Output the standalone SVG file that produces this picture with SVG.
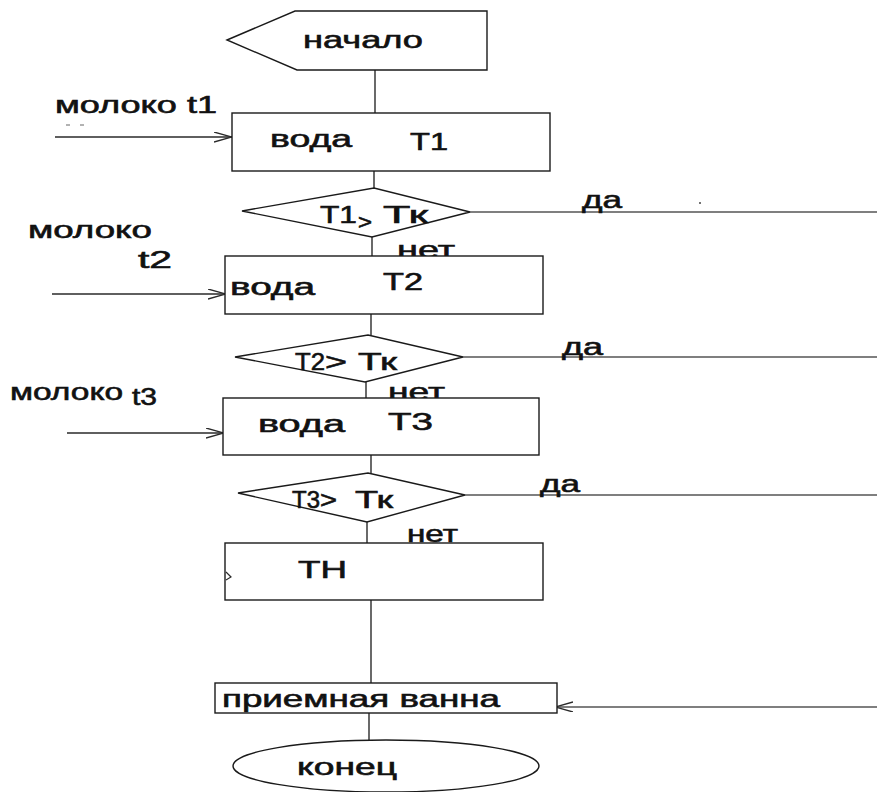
<svg xmlns="http://www.w3.org/2000/svg" width="877" height="792" viewBox="0 0 877 792">
  <style>
    .shape { fill: #fff; stroke: #1a1a1a; stroke-width: 1.4; }
    .line { fill: none; stroke: #2a2a2a; stroke-width: 1.4; }
    .long { fill: none; stroke: #555; stroke-width: 1.6; }
    text { font-family: "Liberation Sans", Arial, sans-serif; font-size: 24px; fill: #111; stroke: #111; stroke-width: 0.6; }
    .gt { font-size: 20px; }
  </style>
  <defs>
    <marker id="open" markerUnits="userSpaceOnUse" markerWidth="20" markerHeight="12" refX="18" refY="5" orient="auto">
      <path d="M0,0 L18,5 L0,10" fill="none" stroke="#2a2a2a" stroke-width="1.3"/>
    </marker>
  </defs>
  <rect width="877" height="792" fill="#fff"/>

  <!-- connectors -->
  <g id="connectors">
    <path class="line" d="M375,70 V113"/>
    <path class="line" d="M374,171 V189"/>
    <path class="line" d="M372,237 V256"/>
    <path class="line" d="M371,314 V335"/>
    <path class="line" d="M366,382 V398"/>
    <path class="line" d="M371,455 V473"/>
    <path class="line" d="M367,522 V543"/>
    <path class="line" d="M371,600 V683"/>
    <path class="line" d="M369,713 V740"/>
    <!-- inflows -->
    <path class="line" d="M55,137 H232" marker-end="url(#open)"/>
    <path class="line" d="M52,294 H226" marker-end="url(#open)"/>
    <path class="line" d="M67,433 H224" marker-end="url(#open)"/>
    <!-- "да" branches -->
    <path class="long" d="M470,212 H877"/>
    <path class="long" d="M463,357 H877"/>
    <path class="long" d="M465,495 H877"/>
    <path class="long" d="M877,707 H555" marker-end="url(#open)"/>
    <!-- small marks -->
    <path d="M66,125 h4 M80,125 h4" stroke="#666" stroke-width="1"/>
    <circle cx="700" cy="203" r="1" fill="#444"/>
  </g>

  <g id="start">
    <polygon class="shape" points="227,40 295,11 487,11 487,70 297,70"/>
    <text x="303" y="48" font-size="26" textLength="120" lengthAdjust="spacingAndGlyphs">начало</text>
  </g>

  <g id="milk1">
    <text x="55" y="113" textLength="162" lengthAdjust="spacingAndGlyphs">молоко t1</text>
  </g>

  <g id="box1">
    <rect class="shape" x="232" y="113" width="318" height="58"/>
    <text x="270" y="147" textLength="82" lengthAdjust="spacingAndGlyphs">вода</text>
    <text x="410" y="150" textLength="38" lengthAdjust="spacingAndGlyphs">T1</text>
  </g>

  <g id="cond1">
    <polygon class="shape" points="242,211 374,188 470,212 372,237"/>
    <text x="320" y="223" textLength="37" lengthAdjust="spacingAndGlyphs">T1</text>
    <text class="gt" x="358" y="229" textLength="14" lengthAdjust="spacingAndGlyphs">&gt;</text>
    <text x="383" y="223" textLength="45" lengthAdjust="spacingAndGlyphs">Тк</text>
    <text x="582" y="208" textLength="40" lengthAdjust="spacingAndGlyphs">да</text>
    <text x="397" y="258" textLength="58" lengthAdjust="spacingAndGlyphs">нет</text>
  </g>

  <g id="milk2">
    <text x="28" y="238" textLength="124" lengthAdjust="spacingAndGlyphs">молоко</text>
    <text x="138" y="268" textLength="34" lengthAdjust="spacingAndGlyphs">t2</text>
  </g>

  <g id="box2">
    <rect class="shape" x="225" y="256" width="318" height="58"/>
    <text x="230" y="295" textLength="85" lengthAdjust="spacingAndGlyphs">вода</text>
    <text x="383" y="290" textLength="40" lengthAdjust="spacingAndGlyphs">T2</text>
  </g>

  <g id="cond2">
    <polygon class="shape" points="235,357 368,335 463,357 365,382"/>
    <text x="295" y="370" textLength="30" lengthAdjust="spacingAndGlyphs">T2</text>
    <text x="325" y="370" textLength="22" lengthAdjust="spacingAndGlyphs">&gt;</text>
    <text x="358" y="370" textLength="39" lengthAdjust="spacingAndGlyphs">Тк</text>
    <text x="562" y="355" textLength="41" lengthAdjust="spacingAndGlyphs">да</text>
    <text x="388" y="400" textLength="57" lengthAdjust="spacingAndGlyphs">нет</text>
  </g>

  <g id="milk3">
    <text x="10" y="400" textLength="113" lengthAdjust="spacingAndGlyphs">молоко</text>
    <text x="132" y="405" textLength="25" lengthAdjust="spacingAndGlyphs">t3</text>
  </g>

  <g id="box3">
    <rect class="shape" x="223" y="398" width="316" height="57"/>
    <text x="258" y="432" textLength="87" lengthAdjust="spacingAndGlyphs">вода</text>
    <text x="388" y="430" textLength="45" lengthAdjust="spacingAndGlyphs">T3</text>
  </g>

  <g id="cond3">
    <polygon class="shape" points="238,493 368,473 465,495 367,522"/>
    <text x="292" y="508" textLength="28" lengthAdjust="spacingAndGlyphs">T3</text>
    <text x="320" y="508" textLength="17" lengthAdjust="spacingAndGlyphs">&gt;</text>
    <text x="355" y="508" textLength="38" lengthAdjust="spacingAndGlyphs">Тк</text>
    <text x="540" y="492" textLength="40" lengthAdjust="spacingAndGlyphs">да</text>
    <text x="407" y="542" textLength="51" lengthAdjust="spacingAndGlyphs">нет</text>
  </g>

  <g id="heater">
    <rect class="shape" x="225" y="543" width="318" height="57"/>
    <path d="M226,572 l5,5 l-5,3" fill="none" stroke="#2a2a2a" stroke-width="1.2"/>
    <text x="298" y="578" textLength="49" lengthAdjust="spacingAndGlyphs">ТН</text>
  </g>

  <g id="tank">
    <rect class="shape" x="215" y="683" width="342" height="30"/>
    <text x="222" y="707" textLength="278" lengthAdjust="spacingAndGlyphs">приемная ванна</text>
  </g>

  <g id="end">
    <ellipse class="shape" cx="386" cy="766" rx="153" ry="26"/>
    <text x="297" y="775" textLength="100" lengthAdjust="spacingAndGlyphs">конец</text>
  </g>
</svg>
